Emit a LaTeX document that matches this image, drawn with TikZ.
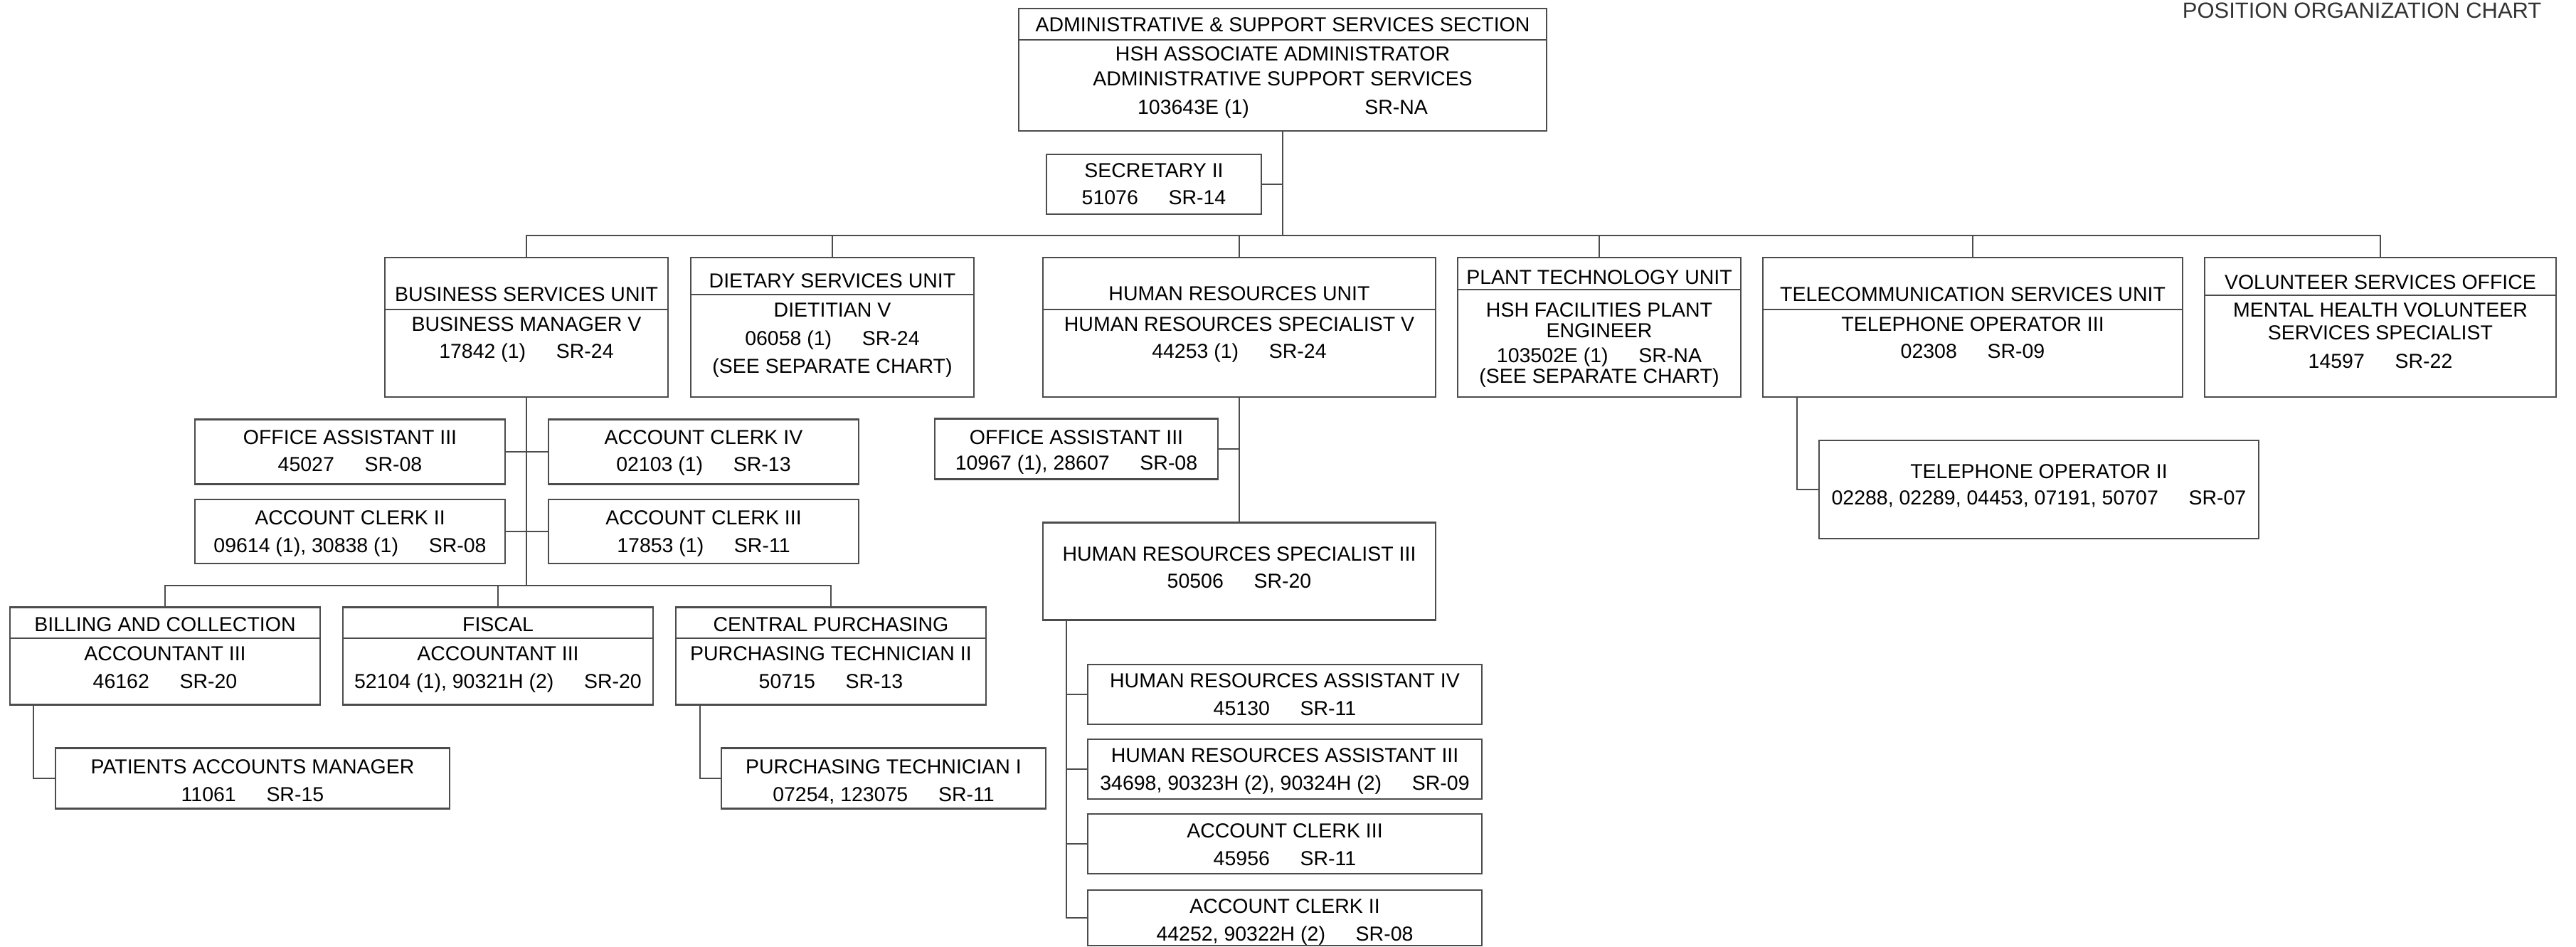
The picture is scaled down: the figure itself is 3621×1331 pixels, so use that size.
\documentclass[tikz,border=0pt]{standalone}
\usepackage{fontspec}
\setmainfont{Liberation Sans}
\newcommand\chartfont{\fontsize{8.1}{11}\selectfont}
\newcommand\gap{\hspace{1.5em}}
\tikzset{
  post/.style={draw=black!70, line width=0.6pt, inner sep=0pt},
  txt/.style={anchor=base, align=center, font=\chartfont, inner sep=0pt},
  link/.style={draw=black!70, line width=0.6pt}
}
\begin{document}
\begin{tikzpicture}[x=0.01cm, y=-0.01cm]
    \useasboundingbox (0,0) rectangle (3621,1331);
    \node[anchor=base east, inner sep=0pt, text=black!80, font=\fontsize{8.8}{10}\selectfont] (title) at (3573,26) {POSITION ORGANIZATION CHART};
    % Section head
    \node[post, minimum width=7.42cm, minimum height=1.72cm] (main) at (1803,98) {};
    \draw[link] (main.west |- 0,56) -- (main.east |- 0,56);
    \node[txt] (main-h) at (1803,45) {ADMINISTRATIVE \& SUPPORT SERVICES SECTION};
    \node[txt] (main-b) at (1803,161) {HSH ASSOCIATE ADMINISTRATOR\\[-1.3pt]ADMINISTRATIVE SUPPORT SERVICES\\[0.65pt]103643E (1)\hspace{5.7em}SR-NA};
    \node[post, minimum width=3.01cm, minimum height=0.84cm] (sec) at (1622,259) {};
    \node[txt] (sec-b) at (1622,288) {SECRETARY II\\51076\gap SR-14};
    % Units
    \node[post, minimum width=3.97cm, minimum height=1.96cm] (bsu) at (740,460) {};
    \draw[link] (bsu.west |- 0,435) -- (bsu.east |- 0,435);
    \node[txt] (bsu-h) at (740,424) {BUSINESS SERVICES UNIT};
    \node[txt] (bsu-b) at (740,504) {BUSINESS MANAGER V\\17842 (1)\gap SR-24};
    \node[post, minimum width=3.97cm, minimum height=1.96cm] (dsu) at (1170,460) {};
    \draw[link] (dsu.west |- 0,414) -- (dsu.east |- 0,414);
    \node[txt] (dsu-h) at (1170,405) {DIETARY SERVICES UNIT};
    \node[txt] (dsu-b) at (1170,525) {DIETITIAN V\\[0.3pt]06058 (1)\gap SR-24\\[0.3pt](SEE SEPARATE CHART)};
    \node[post, minimum width=5.51cm, minimum height=1.96cm] (hru) at (1742,460) {};
    \draw[link] (hru.west |- 0,435) -- (hru.east |- 0,435);
    \node[txt] (hru-h) at (1742,423) {HUMAN RESOURCES UNIT};
    \node[txt] (hru-b) at (1742,504) {HUMAN RESOURCES SPECIALIST V\\44253 (1)\gap SR-24};
    \node[post, minimum width=3.97cm, minimum height=1.96cm] (ptu) at (2248,460) {};
    \draw[link] (ptu.west |- 0,407) -- (ptu.east |- 0,407);
    \node[txt] (ptu-h) at (2248,400) {PLANT TECHNOLOGY UNIT};
    \node[txt] (ptu-b) at (2248,539) {HSH FACILITIES PLANT\\[-2.5pt]ENGINEER\\[-1.3pt]103502E (1)\gap SR-NA\\[-2.5pt](SEE SEPARATE CHART)};
    \node[post, minimum width=5.89cm, minimum height=1.96cm] (tsu) at (2773,460) {};
    \draw[link] (tsu.west |- 0,435) -- (tsu.east |- 0,435);
    \node[txt] (tsu-h) at (2773,424) {TELECOMMUNICATION SERVICES UNIT};
    \node[txt] (tsu-b) at (2773,504) {TELEPHONE OPERATOR III\\02308\gap SR-09};
    \node[post, minimum width=4.93cm, minimum height=1.96cm] (vso) at (3346,460) {};
    \draw[link] (vso.west |- 0,415) -- (vso.east |- 0,415);
    \node[txt] (vso-h) at (3346,407) {VOLUNTEER SERVICES OFFICE};
    \node[txt] (vso-b) at (3346,518) {MENTAL HEALTH VOLUNTEER\\[-1.9pt]SERVICES SPECIALIST\\[0.65pt]14597\gap SR-22};
    % Business services
    \node[post, minimum width=4.36cm, minimum height=0.91cm] (oa1) at (492,635) {};
    \node[txt] (oa1-b) at (492,663) {OFFICE ASSISTANT III\\45027\gap SR-08};
    \node[post, minimum width=4.36cm, minimum height=0.91cm] (ac4) at (989,635) {};
    \node[txt] (ac4-b) at (989,663) {ACCOUNT CLERK IV\\02103 (1)\gap SR-13};
    \node[post, minimum width=4.36cm, minimum height=0.90cm] (ac2) at (492,747) {};
    \node[txt] (ac2-b) at (492,776) {ACCOUNT CLERK II\\09614 (1), 30838 (1)\gap SR-08};
    \node[post, minimum width=4.36cm, minimum height=0.90cm] (ac3) at (989,747) {};
    \node[txt] (ac3-b) at (989,776) {ACCOUNT CLERK III\\17853 (1)\gap SR-11};
    \node[post, minimum width=4.36cm, minimum height=1.37cm] (bill) at (232,922) {};
    \draw[link] (bill.west |- 0,897) -- (bill.east |- 0,897);
    \node[txt] (bill-h) at (232,887) {BILLING AND COLLECTION};
    \node[txt] (bill-b) at (232,967) {ACCOUNTANT III\\46162\gap SR-20};
    \node[post, minimum width=4.36cm, minimum height=1.37cm] (fis) at (700,922) {};
    \draw[link] (fis.west |- 0,897) -- (fis.east |- 0,897);
    \node[txt] (fis-h) at (700,887) {FISCAL};
    \node[txt] (fis-b) at (700,967) {ACCOUNTANT III\\52104 (1), 90321H (2)\gap SR-20};
    \node[post, minimum width=4.36cm, minimum height=1.37cm] (cpur) at (1168,922) {};
    \draw[link] (cpur.west |- 0,897) -- (cpur.east |- 0,897);
    \node[txt] (cpur-h) at (1168,887) {CENTRAL PURCHASING};
    \node[txt] (cpur-b) at (1168,967) {PURCHASING TECHNICIAN II\\50715\gap SR-13};
    \node[post, minimum width=5.53cm, minimum height=0.85cm] (pam) at (355,1094) {};
    \node[txt] (pam-b) at (355,1126) {PATIENTS ACCOUNTS MANAGER\\11061\gap SR-15};
    \node[post, minimum width=4.55cm, minimum height=0.85cm] (pt1) at (1242,1094) {};
    \node[txt] (pt1-b) at (1242,1126) {PURCHASING TECHNICIAN I\\07254, 123075\gap SR-11};
    % Human resources
    \node[post, minimum width=3.98cm, minimum height=0.85cm] (oa2) at (1513,631) {};
    \node[txt] (oa2-b) at (1513,661) {OFFICE ASSISTANT III\\[-0.5pt]10967 (1), 28607\gap SR-08};
    \node[post, minimum width=5.51cm, minimum height=1.37cm] (hrs3) at (1742,803) {};
    \node[txt] (hrs3-b) at (1742,827) {HUMAN RESOURCES SPECIALIST III\\50506\gap SR-20};
    \node[post, minimum width=5.53cm, minimum height=0.84cm] (hra4) at (1806,976) {};
    \node[txt] (hra4-b) at (1806,1005) {HUMAN RESOURCES ASSISTANT IV\\45130\gap SR-11};
    \node[post, minimum width=5.53cm, minimum height=0.84cm] (hra3) at (1806,1081) {};
    \node[txt] (hra3-b) at (1806,1110) {HUMAN RESOURCES ASSISTANT III\\34698, 90323H (2), 90324H (2)\gap SR-09};
    \node[post, minimum width=5.53cm, minimum height=0.84cm] (ac3b) at (1806,1186) {};
    \node[txt] (ac3b-b) at (1806,1216) {ACCOUNT CLERK III\\45956\gap SR-11};
    \node[post, minimum width=5.53cm, minimum height=0.78cm] (ac2b) at (1806,1290) {};
    \node[txt] (ac2b-b) at (1806,1322) {ACCOUNT CLERK II\\44252, 90322H (2)\gap SR-08};
    % Telecommunication
    \node[post, minimum width=6.17cm, minimum height=1.38cm] (top2) at (2866,688) {};
    \node[txt] (top2-b) at (2866,710) {TELEPHONE OPERATOR II\\[-0.2pt]02288, 02289, 04453, 07191, 50707\gap SR-07};
    % Lines
    \coordinate (bus) at (1803,331);
    \draw[link] (main.south) -- (bus);
    \draw[link] (sec.east) -- (sec.east -| main.south);
    \foreach \u in {bsu,dsu,hru,ptu,tsu,vso} \draw[link] (bus) -| (\u.north);
    \coordinate (bbus) at (bsu.south |- 0,823);
    \draw[link] (bsu.south) -- (bbus);
    \foreach \u in {oa1,ac2} \draw[link] (\u.east) -- (\u.east -| bsu.south);
    \foreach \u in {ac4,ac3} \draw[link] (\u.west) -- (\u.west -| bsu.south);
    \foreach \u in {bill,fis,cpur} \draw[link] (bbus) -| (\u.north);
    \coordinate (billdrop) at (bill.south -| 47,0);
    \draw[link] (billdrop) |- (pam.west);
    \coordinate (cpurdrop) at (cpur.south -| 984,0);
    \draw[link] (cpurdrop) |- (pt1.west);
    \draw[link] (hru.south) -- (hrs3.north);
    \draw[link] (oa2.east) -- (oa2.east -| hru.south);
    \coordinate (hrdrop) at (hrs3.south -| 1499,0);
    \draw[link] (hrdrop) |- (ac2b.west);
    \foreach \u in {hra4,hra3,ac3b} \draw[link] (\u.west) -- (\u.west -| hrdrop);
    \coordinate (teldrop) at (tsu.south -| 2526,0);
    \draw[link] (teldrop) |- (top2.west);
\end{tikzpicture}
\end{document}
